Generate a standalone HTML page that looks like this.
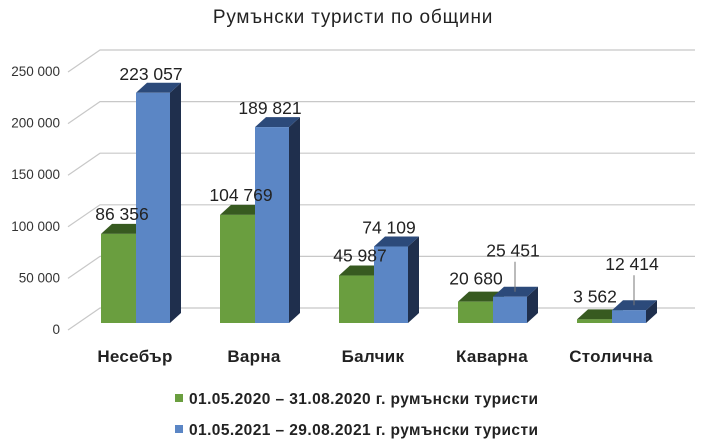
<!DOCTYPE html>
<html><head><meta charset="utf-8"><style>
body{margin:0;background:#fff;}
svg{display:block;font-family:"Liberation Sans","DejaVu Sans",sans-serif;}
</style></head><body>
<svg id="chart" width="714" height="445">
<text x="353" y="23" text-anchor="middle" font-size="19" letter-spacing="0.8" fill="#222">Румънски туристи по общини</text>
<g id="grid"></g><g id="bars"></g><g id="labels"></g>
<g>
<rect x="175" y="394" width="8" height="8" fill="#6a9e3f"/>
<text x="189" y="404" font-size="15.5" font-weight="bold" textLength="349" fill="#222">01.05.2020 – 31.08.2020 г. румънски туристи</text>
<rect x="175" y="425" width="8" height="8" fill="#5b86c5"/>
<text x="189" y="435" font-size="15.5" font-weight="bold" textLength="349" fill="#222">01.05.2021 – 29.08.2021 г. румънски туристи</text>
</g>
</svg>
<script>
const categories=["Несебър","Варна","Балчик","Каварна","Столична"];
const series2020=[86356,104769,45987,20680,3562];
const series2021=[223057,189821,74109,25451,12414];
const labels2020=["86 356","104 769","45 987","20 680","3 562"];
const labels2021=["223 057","189 821","74 109","25 451","12 414"];
const ticks=[0,50000,100000,150000,200000,250000];
const tickLabels=["0","50 000","100 000","150 000","200 000","250 000"];

const NS="http://www.w3.org/2000/svg";
const y0=323, pxPer=258/250000, DX=11, DY=-10, BACKDY=-15;
function yv(v){return y0-v*pxPer;}
function xg(i){return 101+i*119;}
function mk(tag,attrs,parent){const e=document.createElementNS(NS,tag);for(const k in attrs)e.setAttribute(k,attrs[k]);parent.appendChild(e);return e;}
const grid=document.getElementById('grid'),bars=document.getElementById('bars'),labs=document.getElementById('labels');

ticks.forEach((t,i)=>{
  const yb=yv(t)+BACKDY;
  const l=mk('polyline',{points:`68,${yb+22} 100,${yb} 695,${yb}`,fill:'none',stroke:'#c8c8c8','stroke-width':1.2},grid);
  
  
  const tx=mk('text',{x:60,y:yb+26,'text-anchor':'end','font-size':13.5,fill:'#333'},grid);
  tx.textContent=tickLabels[i];
  
  
});

function bar(x,w,v,front,top,side,name){
  const g=mk('g',{},bars);
  
  
  const yt=yv(v);
  mk('polygon',{points:`${x+w},${yt} ${x+w+DX},${yt+DY} ${x+w+DX},${y0+DY} ${x+w},${y0}`,fill:side},g);
  mk('polygon',{points:`${x},${yt} ${x+DX},${yt+DY} ${x+w+DX},${yt+DY} ${x+w},${yt}`,fill:top},g);
  mk('rect',{x:x,y:yt,width:w,height:y0-yt,fill:front},g);
}
function label(x,y,txt,name){
  const t=mk('text',{x:x,y:y,'text-anchor':'middle','font-size':17.5,fill:'#222'},labs);
  t.textContent=txt;
  
  
}
categories.forEach((c,i)=>{
  const x=xg(i);
  bar(x,35,series2020[i],'#6a9e3f','#375a20','#2e4a1a','bar-2020-'+i);
  bar(x+35,34,series2021[i],'#5b86c5','#2c4a7a','#1f2f4d','bar-2021-'+i);
  const t=mk('text',{x:x+34,y:362,'text-anchor':'middle','font-size':17,'font-weight':'bold','letter-spacing':0.3,fill:'#222'},labs);
  t.textContent=c;
  
  
  const y1=yv(series2020[i]), y2=yv(series2021[i]);
  const small=series2021[i]<40000;
  if(!small){
    label(x+21,y1-14,labels2020[i],'value-label-2020');
    label(x+50,y2-13,labels2021[i],'value-label-2021');
  } else {
    label(x+18,Math.min(y1-17,y0-16),labels2020[i],'value-label-2020');
    const ly=y2-40;
    label(x+55,ly,labels2021[i],'value-label-2021');
    const ln=mk('line',{x1:x+57,y1:ly+5,x2:x+57,y2:y2-5,stroke:'#777','stroke-width':1},labs);
    
    
  }
});
</script>
</body></html>
